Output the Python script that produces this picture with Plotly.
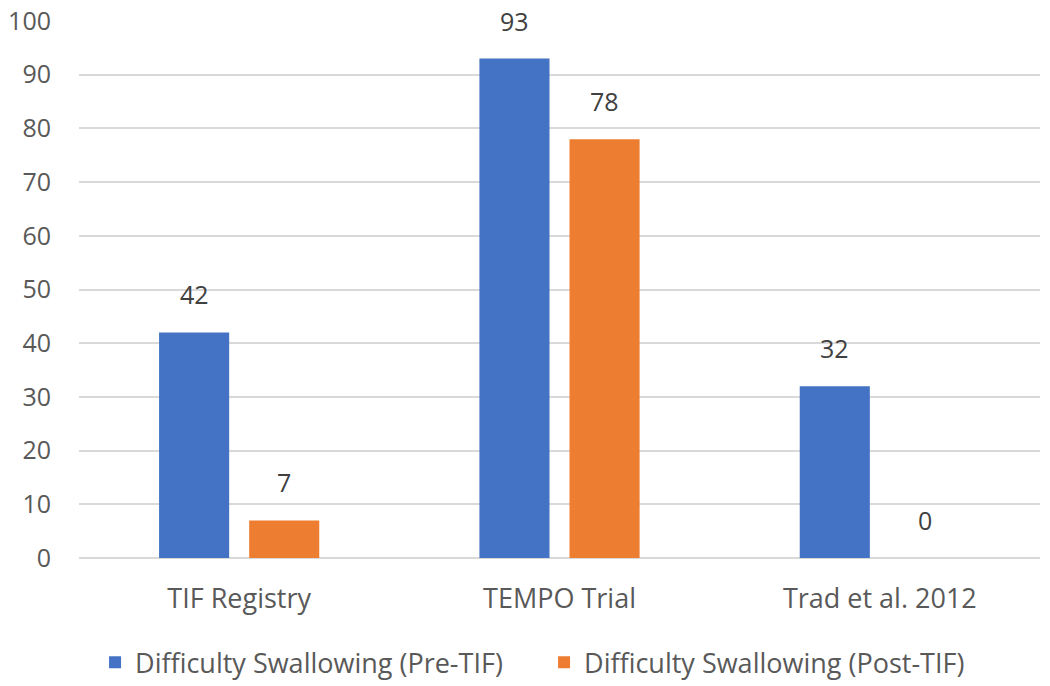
import plotly.graph_objects as go

categories = ["TIF Registry", "TEMPO Trial", "Trad et al. 2012"]
pre_tif = [42, 93, 32]
post_tif = [7, 78, 0]
series_names = ["Difficulty Swallowing (Pre-TIF)", "Difficulty Swallowing (Post-TIF)"]
colors = ["#4472C4", "#ED7D31"]

fig = go.Figure()
for name, vals, c in zip(series_names, [pre_tif, post_tif], colors):
    fig.add_trace(go.Bar(x=categories, y=vals, name=name, marker=dict(color=c, line=dict(width=0))))

annotations = []
for i, vals in enumerate([pre_tif, post_tif]):
    for j, v in enumerate(vals):
        annotations.append(dict(
            x=j + (-0.1406 if i == 0 else 0.1406), y=v, xref="x", yref="y",
            text=str(v), showarrow=False, yanchor="bottom", yshift=19,
            font=dict(size=25, color="#404040")))

fig.update_layout(
    width=1050, height=686,
    margin=dict(l=79, r=10, t=21, b=128),
    paper_bgcolor="white", plot_bgcolor="white",
    font=dict(family="Open Sans, Liberation Sans, sans-serif", size=25, color="#595959"),
    bargap=0.4375, bargroupgap=0.222,
    barmode="group",
    showlegend=True,
    legend=dict(orientation="h", xref="paper", x=0.0167, xanchor="left",
                yref="container", y=0.034, yanchor="middle",
                font=dict(size=27, color="#595959"), itemwidth=30, traceorder="normal",
                entrywidth=404, entrywidthmode="pixels"),
    annotations=annotations,
    xaxis=dict(showgrid=False, showline=False, ticks="", automargin=False,
               ticklabelstandoff=22, tickfont=dict(size=27, color="#595959")),
    yaxis=dict(range=[0, 100], dtick=10, showgrid=True, gridcolor="#D9D9D9", gridwidth=1.5,
               zeroline=True, zerolinecolor="#D9D9D9", zerolinewidth=1.5, automargin=False,
               ticklabeloverflow="allow",
               showline=False, ticks="", ticklabelstandoff=27, tickfont=dict(size=25, color="#595959")),
)

fig.write_html("out.html", config={"displayModeBar": False},
               post_script="document.body.style.margin='0';document.body.style.overflow='hidden';")
